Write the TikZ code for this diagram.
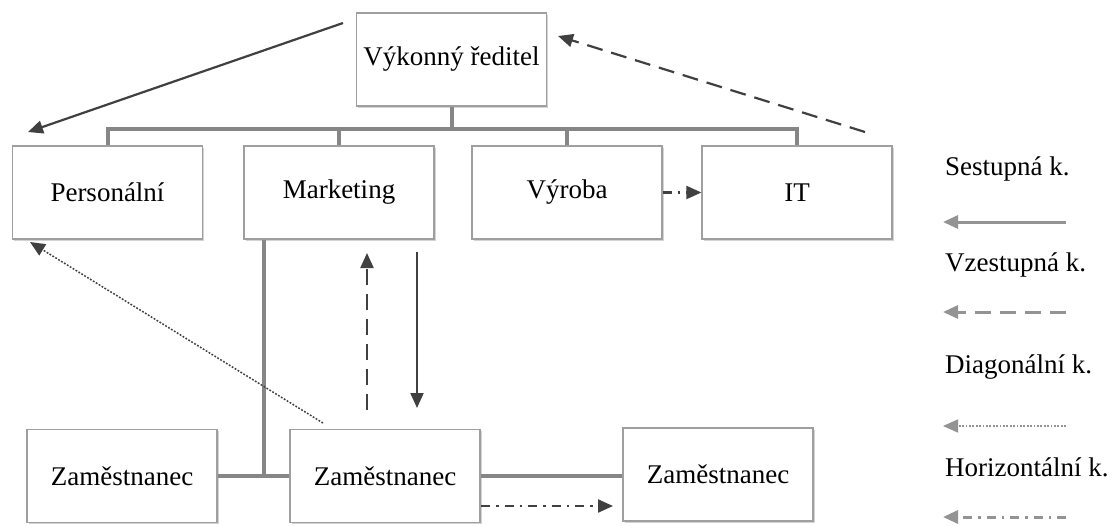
\documentclass[tikz,border=0pt]{standalone}
\usepackage{fontspec}
\setmainfont{Liberation Serif}
\usetikzlibrary{arrows.meta,shadows}

\begin{document}
\begin{tikzpicture}[x=1pt,y=-1pt]

% styles
\tikzset{%
    box/.style={draw=gray!75,line width=1.2pt,fill=white,minimum width=190pt,minimum height=93pt,
        font=\fontsize{27}{32}\selectfont,
        drop shadow={shadow xshift=1.5pt,shadow yshift=-1.5pt,opacity=0.35,fill=gray}},
    org/.style={draw=gray!95,line width=4pt},
    komu/.style={draw=black!75,line width=2.2pt,-{Triangle[length=15pt,width=13pt]}},
    leg/.style={draw=gray!85,line width=3pt,-{Triangle[length=15pt,width=13pt]}},
    legtext/.style={anchor=west,inner sep=0pt,font=\fontsize{27}{32}\selectfont},
    vzest/.style={dash pattern=on 16pt off 9pt},
    diag/.style={dash pattern=on 1.8pt off 1.6pt},
    horiz/.style={dash pattern=on 9pt off 6pt on 2.5pt off 6pt},
}

\def\bus{129}
\def\legx{945}

\useasboundingbox (0,0) rectangle (1111,525);

% boxes
\node [box] (ceo) at (451.5,59.5) {Výkonný ředitel};
\node [box] (pers) at (107.5,192.5) {Personální};
\node [box] (mark) at (339,192.5) {Marketing};
\node [box] (vyr) at (567,192.5) {Výroba};
\node [box] (it) at (797,192.5) {IT};
\node [box] (z1) at (122,476) {Zaměstnanec};
\node [box] (z2) at (385,476) {Zaměstnanec};
\node [box] (z3) at (718,474.5) {Zaměstnanec};

% organisation lines
\coordinate (B) at (451.5,\bus);
\draw [org] (ceo.south) -- (B);
\draw [org] (pers.north) |- (B) -| (it.north);
\draw [org] (mark.north) -- (mark.north |- B);
\draw [org] (vyr.north) -- (vyr.north |- B);
\coordinate (M) at (264,239.5);
\draw [org] (M) |- (z2.west);
\draw [org] (z1.east) -- (z2.west);
\draw [org] (z2.east) -- (z2.east -| z3.west);

% communication arrows
\coordinate (S1) at (343,23);
\coordinate (S2) at (28,132);
\draw [komu] (S1) -- (S2);

\coordinate (V1) at (865,132);
\coordinate (V2) at (558,36);
\draw [komu,vzest] (V1) -- (V2);

\coordinate (U1) at (367,410);
\coordinate (U2) at (367,253);
\draw [komu,vzest] (U1) -- (U2);

\coordinate (D1) at (417,252);
\coordinate (D2) at (417,408);
\draw [komu] (D1) -- (D2);

\coordinate (G1) at (323,423);
\coordinate (G2) at (30,242);
\draw [komu,line width=1.5pt,diag] (G1) -- (G2);

\draw [komu,horiz] (vyr.east) -- (it.west);

\coordinate (H1) at (481,506);
\coordinate (H2) at (613,506);
\draw [komu,horiz] (H1) -- (H2);

% legend
\node [legtext] (l1) at (\legx,169) {Sestupná k.};
\node [legtext] (l2) at (\legx,265) {Vzestupná k.};
\node [legtext] (l3) at (\legx,367) {Diagonální k.};
\node [legtext] (l4) at (\legx,467) {Horizontální k.};

\draw [leg] (1066,222) coordinate (a1) -- (943,222) coordinate (a1e);
\draw [leg,vzest] (1066,312) coordinate (a2) -- (943,312) coordinate (a2e);
\draw [leg,line width=1.6pt,diag] (1066,426) coordinate (a3) -- (943,426) coordinate (a3e);
\draw [leg,horiz] (1066,517) coordinate (a4) -- (943,517) coordinate (a4e);

\end{tikzpicture}
\end{document}
